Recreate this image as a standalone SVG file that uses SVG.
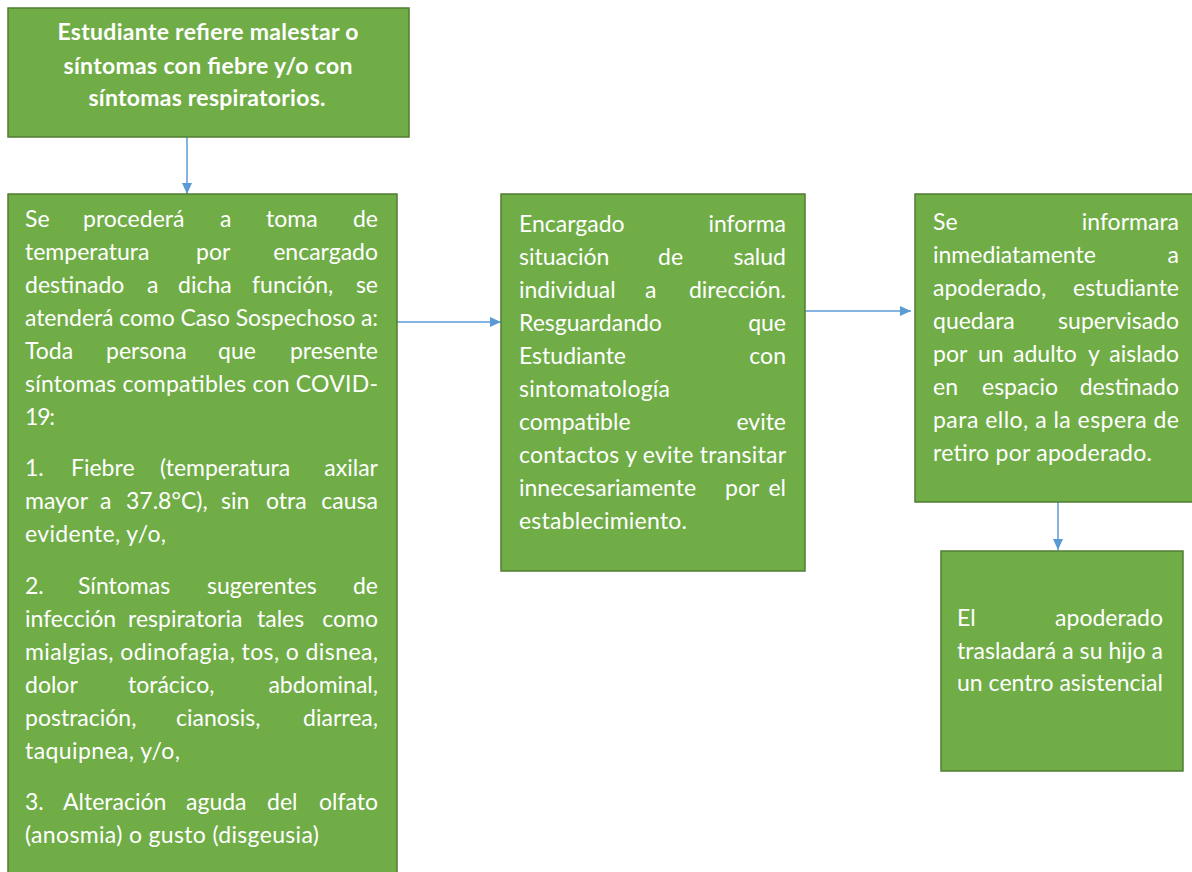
<svg xmlns="http://www.w3.org/2000/svg" width="1192" height="872" viewBox="0 0 1192 872">
<style>
.box{fill:#70AD47;stroke:#507E32;stroke-width:1.5}
.t{font-family:Lato,"Liberation Sans",sans-serif;font-size:23px;fill:#ffffff}
.b{font-weight:bold;text-anchor:middle}
.e{text-anchor:end}
.conn{stroke:#5B9BD5;stroke-width:1.5;fill:none}
</style>
<defs>
<marker id="ah" markerUnits="userSpaceOnUse" markerWidth="12" markerHeight="12" refX="11" refY="6" orient="auto">
<path d="M0,1 L11,6 L0,11 Z" fill="#5B9BD5"/>
</marker>
</defs>
<rect width="1192" height="872" fill="#ffffff"/>
<g id="connectors">
<line class="conn" x1="187" y1="137" x2="187" y2="194" marker-end="url(#ah)"/>
<line class="conn" x1="397" y1="322" x2="501" y2="322" marker-end="url(#ah)"/>
<line class="conn" x1="805" y1="311" x2="911" y2="311" marker-end="url(#ah)"/>
<line class="conn" x1="1058" y1="502" x2="1058" y2="550" marker-end="url(#ah)"/>
</g>
<g id="n1">
<rect class="box" x="8" y="8" width="401" height="129"/>
<text class="t b" x="208" y="40" textLength="301">Estudiante refiere malestar o</text>
<text class="t b" x="208" y="74" textLength="289">síntomas con fiebre y/o con</text>
<text class="t b" x="207" y="106" textLength="237">síntomas respiratorios.</text>
</g>
<g id="n2">
<rect class="box" x="8" y="194" width="389" height="690"/>
<text class="t" y="227"><tspan x="25">Se</tspan><tspan x="83">procederá</tspan><tspan x="220">a</tspan><tspan x="266">toma</tspan></text>
<text class="t e" x="378" y="227">de</text>
<text class="t" y="260"><tspan x="25">temperatura</tspan><tspan x="196">por</tspan></text>
<text class="t e" x="378" y="260">encargado</text>
<text class="t" y="293"><tspan x="25">destinado</tspan><tspan x="147">a</tspan><tspan x="178">dicha</tspan><tspan x="252">función,</tspan></text>
<text class="t e" x="378" y="293">se</text>
<text class="t" x="25" y="326" textLength="353">atenderá como Caso Sospechoso a:</text>
<text class="t" y="359"><tspan x="25">Toda</tspan><tspan x="106">persona</tspan><tspan x="218">que</tspan></text>
<text class="t e" x="378" y="359">presente</text>
<text class="t" x="25" y="392" textLength="353">síntomas compatibles con COVID-</text>
<text class="t" x="25" y="425" textLength="30">19:</text>
<text class="t" y="476"><tspan x="25">1.</tspan><tspan x="71">Fiebre</tspan><tspan x="160">(temperatura</tspan></text>
<text class="t e" x="378" y="476">axilar</text>
<text class="t" y="509"><tspan x="25">mayor</tspan><tspan x="100">a</tspan><tspan x="126">37.8°C),</tspan><tspan x="221">sin</tspan><tspan x="266">otra</tspan></text>
<text class="t e" x="378" y="509">causa</text>
<text class="t" x="25" y="542" textLength="141">evidente, y/o,</text>
<text class="t" y="594"><tspan x="25">2.</tspan><tspan x="78">Síntomas</tspan><tspan x="207">sugerentes</tspan></text>
<text class="t e" x="378" y="594">de</text>
<text class="t" y="627"><tspan x="25">infección</tspan><tspan x="128">respiratoria</tspan><tspan x="257">tales</tspan></text>
<text class="t e" x="378" y="627">como</text>
<text class="t" x="25" y="660" textLength="353">mialgias, odinofagia, tos, o disnea,</text>
<text class="t" y="693"><tspan x="25">dolor</tspan><tspan x="128">torácico,</tspan></text>
<text class="t e" x="378" y="693">abdominal,</text>
<text class="t" y="726"><tspan x="25">postración,</tspan><tspan x="176">cianosis,</tspan></text>
<text class="t e" x="378" y="726">diarrea,</text>
<text class="t" x="25" y="759" textLength="155">taquipnea, y/o,</text>
<text class="t" y="810"><tspan x="25">3.</tspan><tspan x="63">Alteración</tspan><tspan x="186">aguda</tspan><tspan x="267">del</tspan></text>
<text class="t e" x="378" y="810">olfato</text>
<text class="t" x="25" y="843" textLength="294">(anosmia) o gusto (disgeusia)</text>
</g>
<g id="n3">
<rect class="box" x="501" y="194" width="304" height="377"/>
<text class="t" x="519" y="232">Encargado</text>
<text class="t e" x="786" y="232">informa</text>
<text class="t" y="265"><tspan x="519">situación</tspan><tspan x="658">de</tspan></text>
<text class="t e" x="786" y="265">salud</text>
<text class="t" y="298"><tspan x="519">individual</tspan><tspan x="645">a</tspan></text>
<text class="t e" x="786" y="298">dirección.</text>
<text class="t" x="519" y="331">Resguardando</text>
<text class="t e" x="786" y="331">que</text>
<text class="t" x="519" y="364">Estudiante</text>
<text class="t e" x="786" y="364">con</text>
<text class="t" x="519" y="397" textLength="151">sintomatología</text>
<text class="t" x="519" y="430">compatible</text>
<text class="t e" x="786" y="430">evite</text>
<text class="t" x="519" y="463" textLength="267">contactos y evite transitar</text>
<text class="t" y="496"><tspan x="519">innecesariamente</tspan><tspan x="725">por</tspan></text>
<text class="t e" x="786" y="496">el</text>
<text class="t" x="519" y="529" textLength="168">establecimiento.</text>
</g>
<g id="n4">
<rect class="box" x="915" y="194" width="285" height="308"/>
<text class="t" x="933" y="230">Se</text>
<text class="t e" x="1179" y="230">informara</text>
<text class="t" x="933" y="263">inmediatamente</text>
<text class="t e" x="1179" y="263">a</text>
<text class="t" x="933" y="296">apoderado,</text>
<text class="t e" x="1179" y="296">estudiante</text>
<text class="t" x="933" y="329">quedara</text>
<text class="t e" x="1179" y="329">supervisado</text>
<text class="t" y="362"><tspan x="933">por</tspan><tspan x="978">un</tspan><tspan x="1013">adulto</tspan><tspan x="1088">y</tspan></text>
<text class="t e" x="1179" y="362">aislado</text>
<text class="t" y="395"><tspan x="933">en</tspan><tspan x="982">espacio</tspan></text>
<text class="t e" x="1179" y="395">destinado</text>
<text class="t" x="933" y="428" textLength="246">para ello, a la espera de</text>
<text class="t" x="933" y="461" textLength="219">retiro por apoderado.</text>
</g>
<g id="n5">
<rect class="box" x="941" y="551" width="242" height="220"/>
<text class="t" x="957" y="626">El</text>
<text class="t e" x="1163" y="626">apoderado</text>
<text class="t" x="957" y="659" textLength="206">trasladará a su hijo a</text>
<text class="t" x="957" y="691" textLength="206">un centro asistencial</text>
</g>
</svg>
